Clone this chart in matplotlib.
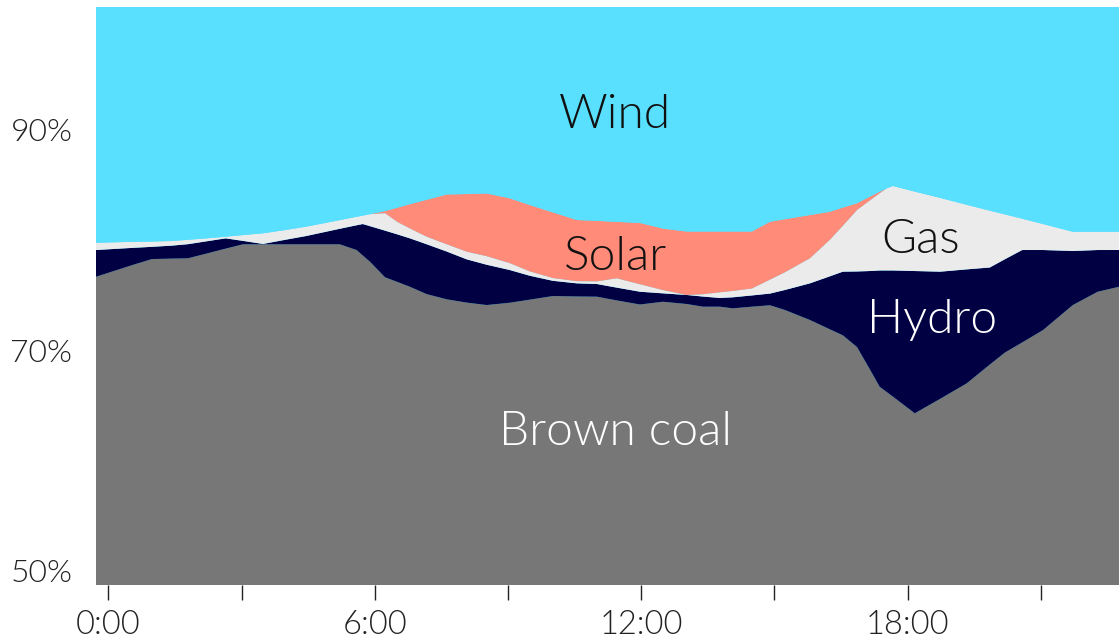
import matplotlib
matplotlib.use("Agg")
import matplotlib.pyplot as plt
import numpy as np

plt.rcParams['font.family'] = ['Lato', 'DejaVu Sans']
plt.rcParams['font.weight'] = 300

# hours of the day
hours = [-0.28, 0.48, 0.98, 1.43, 1.79, 2.24, 2.64, 3.03, 3.48, 3.97, 4.45, 5.21,
         5.59, 5.73, 5.89, 6.23, 6.50, 6.79, 7.17, 7.62, 8.07, 8.52, 9.04, 9.49,
         10.01, 10.55, 11.00, 11.45, 11.97, 12.49, 13.03, 13.39, 13.77, 14.06, 14.49,
         14.90, 15.23, 15.80, 16.25, 16.54, 16.86, 17.15, 17.37, 17.53, 17.67, 18.16,
         18.73, 19.33, 19.85, 20.19, 20.58, 21.05, 21.72, 22.28, 22.76]

# share of generation, %
brown_coal = [76.66, 77.65, 78.27, 78.31, 78.34, 78.80, 79.22, 79.61, 79.61, 79.61, 79.61, 79.61,
              79.09, 78.59, 78.03, 76.61, 76.20, 75.75, 75.08, 74.61, 74.31, 74.09, 74.30, 74.58,
              74.91, 74.87, 74.85, 74.51, 74.14, 74.39, 74.18, 73.94, 73.94, 73.79, 73.94,
              74.07, 73.65, 72.73, 71.88, 71.34, 70.27, 68.24, 66.66, 66.18, 65.76, 64.25,
              65.56, 66.97, 68.68, 69.77, 70.69, 71.82, 74.09, 75.30, 75.75]
hydro = [2.43, 1.62, 1.11, 1.18, 1.28, 1.10, 0.93, 0.31, 0.03, 0.40, 0.75, 1.41,
         2.25, 2.86, 3.23, 4.24, 4.32, 4.40, 4.53, 4.34, 3.93, 3.66, 2.97, 2.17,
         1.38, 1.19, 1.15, 1.16, 1.16, 0.76, 0.82, 0.92, 0.79, 1.00, 1.02,
         1.06, 1.80, 3.33, 4.82, 5.78, 6.87, 8.94, 10.57, 11.05, 11.47, 12.93,
         11.56, 10.36, 8.82, 8.48, 8.40, 7.27, 4.91, 3.79, 3.34]
gas = [0.66, 0.56, 0.48, 0.42, 0.40, 0.26, 0.15, 0.53, 0.97, 0.89, 0.85, 0.79,
       0.77, 0.77, 1.09, 1.59, 1.14, 0.90, 0.69, 0.66, 0.70, 0.78, 0.63, 0.40,
       0.25, 0.20, 0.24, 0.85, 0.68, 0.30, 0.00, 0.21, 0.52, 0.58, 0.63,
       1.27, 1.61, 2.28, 3.33, 4.18, 5.59, 6.42, 7.02, 7.47, 7.68, 7.22,
       6.71, 5.87, 5.17, 4.08, 2.85, 2.36, 1.75, 1.66, 1.66]
solar = [0, 0, 0, 0, 0, 0, 0, 0, 0, 0, 0, 0,
         0, 0, 0, 0.19, 1.27, 2.21, 3.36, 4.53, 5.24, 5.70, 5.89, 6.03,
         5.97, 5.56, 5.50, 5.13, 5.57, 5.59, 5.77, 5.70, 5.52, 5.40, 5.18,
         5.26, 4.83, 3.93, 2.54, 1.65, 0.61, 0.34, 0.14, 0, 0, 0,
         0, 0, 0, 0, 0, 0, 0, 0, 0]
wind = [20.25, 20.17, 20.14, 20.09, 19.98, 19.84, 19.70, 19.55, 19.39, 19.10, 18.79, 18.19,
        17.89, 17.78, 17.65, 17.37, 17.07, 16.74, 16.34, 15.86, 15.82, 15.77, 16.21, 16.82,
        17.49, 18.18, 18.26, 18.35, 18.45, 18.96, 19.23, 19.23, 19.23, 19.23, 19.23,
        18.34, 18.11, 17.73, 17.43, 17.05, 16.66, 16.06, 15.61, 15.30, 15.09, 15.60,
        16.17, 16.80, 17.33, 17.67, 18.06, 18.55, 19.25, 19.25, 19.25]

colors = ['#777777', '#000042', '#ebebeb', '#ff8b78', '#5ae0ff']
tick_hours = [0, 3, 6, 9, 12, 15, 18, 21]
tick_labels = ['0:00', '', '6:00', '', '12:00', '', '18:00', '']

fig = plt.figure(figsize=(11.19, 6.43), dpi=100)
ax = fig.add_axes([0.0858, 0.0902, 0.9142, 0.8989])
ax.set_facecolor(colors[4])
ax.stackplot(hours, brown_coal, hydro, gas, solar, wind, colors=colors, linewidth=0)

ax.set_xlim(-0.28, 22.76)
ax.set_ylim(48.64, 101.18)
for s in ax.spines.values():
    s.set_visible(False)

ax.set_xticks(tick_hours)
ax.set_xticklabels(tick_labels)
ax.set_yticks([50, 70, 90])
ax.set_yticklabels(['50%', '70%', '90%'])
ax.tick_params(axis='x', length=11, width=1, color='#222222', pad=7,
               labelsize=23.5, labelcolor='#222222')
ax.tick_params(axis='y', length=0, pad=17, labelsize=23, labelcolor='#222222')

lbl = dict(fontsize=34.5, fontweight=300, ha='center', va='baseline')
ax.text(11.41, 90.18, 'Wind', color='#111111', **lbl)
ax.text(11.43, 77.27, 'Solar', color='#111111', **lbl)
ax.text(18.30, 78.82, 'Gas', color='#111111', **lbl)
ax.text(18.55, 71.55, 'Hydro', color='white', **lbl)
ax.text(11.41, 61.36, 'Brown coal', color='white', **lbl)

plt.savefig('out.png', dpi=100)
